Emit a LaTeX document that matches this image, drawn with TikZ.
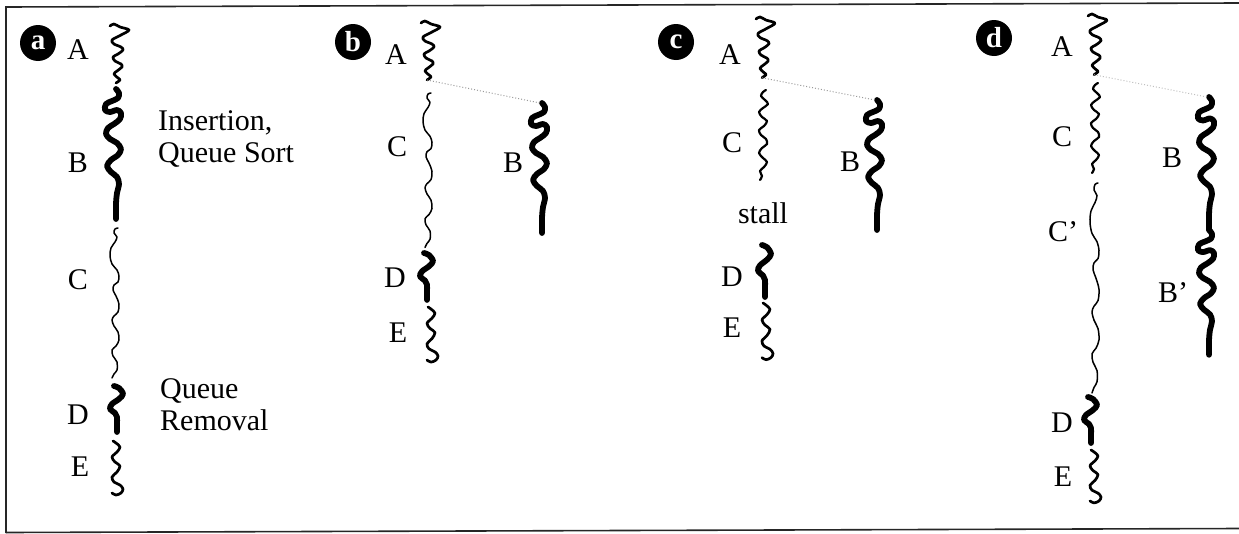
\documentclass[tikz,border=0pt]{standalone}
\usepackage{fontspec}
\setmainfont{Liberation Serif}
\begin{document}
\begin{tikzpicture}[x=1pt,y=-1pt,
  thread/.style={black, line cap=round, line join=round},
  thinthr/.style={thread, line width=1.5pt},
  midthr/.style={thread, line width=2.2pt},
  medthr/.style={thread, line width=2.7pt},
  thickthr/.style={thread, line width=5.8pt},
  lbl/.style={font=\fontsize{30}{32}\selectfont, inner sep=0pt},
  badge/.style={circle, fill=black, text=white, minimum size=36pt, inner sep=0pt,
    font=\fontsize{29}{29}\selectfont\bfseries},
  gap/.style={dotted, black!40, line width=1pt},
  frame/.style={line width=1.6pt, black!85},
  % short wiggly segment
  thrA/.pic={
    \draw[medthr] plot[smooth, tension=0.55] coordinates {(-9,1) (-5,-1) (1,2) (10,5) (2,10) (-7,15) (-5,19) (2,22) (4,25) (-1,29) (-6,32) (-4,36) (2,39) (3,42) (-2,46) (-5,49) (-1,53) (1,55) (-3,58)};
    \coordinate (-top) at (0,0);
    \coordinate (-end) at (-3,58);
  },
  % heavy coiled segment with a curl near its head
  thrB/.pic={
    \draw[thickthr] plot[smooth, tension=0.55] coordinates {(2,0) (5,4) (4,9) (-2,12) (-8,15) (-9,21) (-4,23) (3,21) (7,24) (6,30) (0,35) (-6,39) (-8,45) (-4,50) (3,54) (7,60) (4,66) (-3,71) (-7,77) (-3,83) (3,88) (5,95) (3,104) (2,115) (2,130)};
    \coordinate (-top) at (0,0);
    \coordinate (-end) at (2,130);
  },
  % long thin wavy segment
  thrC/.pic={
    \draw[thinthr] plot[smooth, tension=0.55] coordinates {(3,0) (0,1) (-1,5) (2,9) (0,14) (-4,20) (-5,28) (-3,36) (2,42) (4,48) (3,54) (-1,57) (-2,62) (1,68) (4,76) (3,84) (-1,88) (-3,92) (-1,98) (3,104) (4,112) (1,118) (-3,122) (-2,128) (2,134) (2,142) (-1,146) (-3,150)};
    \coordinate (-top) at (0,0);
    \coordinate (-end) at (-3,150);
  },
  % short tightly wound segment
  thrCc/.pic={
    \draw[midthr] plot[smooth, tension=0.55] coordinates {(3,0) (0,2) (-2,6) (2,10) (5,14) (0,18) (-4,22) (-1,27) (4,31) (1,36) (-4,40) (-2,45) (3,49) (4,54) (-1,58) (-4,63) (0,68) (4,72) (1,77) (-3,81) (-1,86) (-3,90)};
    \coordinate (-top) at (0,0);
    \coordinate (-end) at (-3,90);
  },
  % heavy S-hook
  thrD/.pic={
    \draw[thickthr] plot[smooth, tension=0.55] coordinates {(-2,0) (3,2) (7,8) (3,13) (-4,18) (-6,23) (-1,27) (1,31) (1,38) (1,46)};
    \coordinate (-top) at (0,0);
    \coordinate (-end) at (1,46);
  },
  % tail squiggle
  thrE/.pic={
    \draw[medthr] plot[smooth, tension=0.55] coordinates {(-3,0) (0,2) (4,6) (1,11) (-4,16) (-1,21) (4,25) (1,31) (-4,36) (-2,41) (4,44) (7,48) (5,52) (0,54) (-4,52)};
    \coordinate (-top) at (0,0);
    \coordinate (-end) at (-4,52);
  }
]
\useasboundingbox (0,0) rectangle (1239,533);

% outer frame (open on the right)
\draw[frame] (1239,3) -- (6,7) -- (6,533);
\draw[frame] (6,532.5) -- (1239,528.5);

% ---------------- panel a ----------------
\node[badge] (ba) at (38,43) {a};
\pic (aA) at (119,25) {thrA};
\pic (aB) at (114,89) {thrB};
\pic (aC) at (115,228) {thrC};
\pic (aD) at (116,386) {thrD};
\pic (aE) at (116,441) {thrE};
\node[lbl] (laA) at (78,50) {A};
\node[lbl] (laB) at (78,163) {B};
\node[lbl] (laC) at (78,280) {C};
\node[lbl] (laD) at (78,415) {D};
\node[lbl] (laE) at (80,467) {E};
\node[lbl, anchor=base west] (ins) at (158,130) {Insertion,};
\node[lbl, anchor=base west] (qs) at (158,162) {Queue Sort};
\node[lbl, anchor=base west] (qu) at (160,398) {Queue};
\node[lbl, anchor=base west] (rm) at (160,430) {Removal};

% ---------------- panel b ----------------
\node[badge] (bb) at (353,42) {b};
\pic (bA) at (430,22) {thrA};
\pic[yscale=1.03] (bC) at (428,93) {thrC};
\pic (bB) at (540,103) {thrB};
\pic[yscale=1.02] (bD) at (426,253) {thrD};
\pic[yscale=1.02] (bE) at (431,307) {thrE};
\draw[gap] (bA-end) -- (bB-top);
\node[lbl] (lbA) at (396,55) {A};
\node[lbl] (lbC) at (397,147) {C};
\node[lbl] (lbB) at (513,163) {B};
\node[lbl] (lbD) at (395,278) {D};
\node[lbl] (lbE) at (398,333) {E};

% ---------------- panel c ----------------
\node[badge] (bc) at (676,42) {c};
\pic[yscale=1.03] (cA) at (765,18) {thrA};
\pic (cC) at (763,90) {thrCc};
\pic (cB) at (875,100) {thrB};
\pic[yscale=1.13] (cD) at (764,245) {thrD};
\pic[yscale=1.05] (cE) at (766,303) {thrE};
\draw[gap] (cA-end) -- (cB-top);
\node[lbl] (lcA) at (730,55) {A};
\node[lbl] (lcC) at (732,143) {C};
\node[lbl] (lcB) at (850,162) {B};
\node[lbl] (lcD) at (732,277) {D};
\node[lbl] (lcE) at (732,328) {E};
\node[lbl] (stall) at (763,213) {stall};

% ---------------- panel d ----------------
\node[badge] (bd) at (994,38) {d};
\pic[yscale=1.03] (dA) at (1097,15) {thrA};
\pic (dC) at (1095,83) {thrCc};
\pic[yscale=1.4] (dC2) at (1095,183) {thrC};
\pic[yscale=1.02] (dB) at (1207,97) {thrB};
\pic[yscale=0.96] (dB2) at (1207,230) {thrB};
\pic (dD) at (1090,397) {thrD};
\pic[yscale=0.98] (dE) at (1094,450) {thrE};
\draw[gap, black!25] (dA-end) -- (dB-top);
\node[lbl] (ldA) at (1062,47) {A};
\node[lbl] (ldC) at (1062,137) {C};
\node[lbl] (ldC2) at (1063,232) {C’};
\node[lbl] (ldB) at (1172,158) {B};
\node[lbl] (ldB2) at (1173,293) {B’};
\node[lbl] (ldD) at (1062,423) {D};
\node[lbl] (ldE) at (1063,477) {E};
\end{tikzpicture}
\end{document}
